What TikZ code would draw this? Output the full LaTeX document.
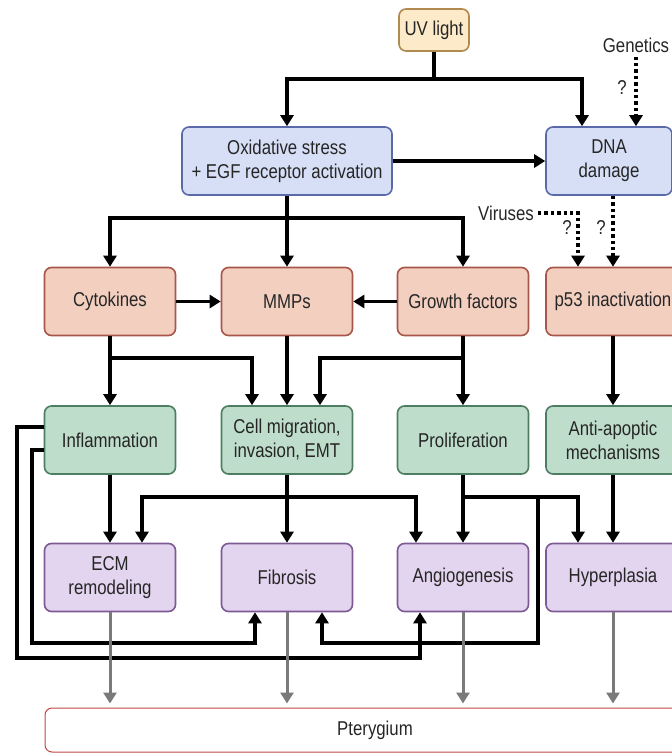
\documentclass[tikz,border=0pt]{standalone}
\usepackage{fontspec}
\setmainfont[FakeStretch=0.84]{Liberation Sans}
\usetikzlibrary{arrows.meta}
\definecolor{uvfill}{HTML}{FCEAC8}
\definecolor{uvdraw}{HTML}{B08A50}
\definecolor{bluefill}{HTML}{D6DFF6}
\definecolor{bluedraw}{HTML}{5A6AA8}
\definecolor{salfill}{HTML}{F3CFC0}
\definecolor{saldraw}{HTML}{A8564A}
\definecolor{grnfill}{HTML}{BEDDCB}
\definecolor{grndraw}{HTML}{4D7D63}
\definecolor{purfill}{HTML}{E3D4EF}
\definecolor{purdraw}{HTML}{7D5A93}
\definecolor{ptdraw}{HTML}{C04848}
\definecolor{txt}{HTML}{262626}
\definecolor{garrow}{HTML}{7A7A7A}
\begin{document}
\begin{tikzpicture}[x=1pt,y=-1pt,
  box/.style={draw, rounded corners=7pt, line width=1.6pt, align=center, text=txt,
    font=\fontsize{20}{24}\selectfont, inner sep=0pt},
  cell/.style={box, minimum width=131pt, minimum height=68pt},
  blue/.style={box, fill=bluefill, draw=bluedraw},
  sal/.style={cell, fill=salfill, draw=saldraw},
  grn/.style={cell, fill=grnfill, draw=grndraw},
  pur/.style={cell, fill=purfill, draw=purdraw},
  lbl/.style={text=txt, font=\fontsize{20}{24}\selectfont, inner sep=0pt},
  arr/.style={line width=3.2pt, -{Triangle[width=13pt,length=11pt]}},
  ln/.style={line width=3.2pt},
  dotarr/.style={line width=3.4pt, dash pattern=on 3.4pt off 3pt, -{Triangle[width=13pt,length=11pt]}},
  garr/.style={line width=3pt, draw=garrow, -{Triangle[width=13pt,length=11pt]}, shorten >=4pt}
]
\useasboundingbox (0,0) rectangle (672,756);

% nodes
\node[box, fill=uvfill, draw=uvdraw, minimum width=70pt, minimum height=42pt] (uv) at (434,30) {UV light};
\node[lbl] (gen) at (636,45) {Genetics};
\node[blue, minimum width=210pt, minimum height=68pt] (ox) at (287,161) {Oxidative stress\\+ EGF receptor activation};
\node[blue, minimum width=126pt, minimum height=68pt] (dna) at (609,161) {DNA\\damage};
\node[lbl] (vir) at (506,213) {Viruses};

\node[sal] (cyt) at (110,301.5) {Cytokines};
\node[sal] (mmp) at (287,301.5) {MMPs};
\node[sal] (gf)  at (463,301.5) {Growth factors};
\node[sal, minimum width=134pt] (p53) at (613,301.5) {p53 inactivation};

\node[grn] (inf)  at (110,440) {Inflammation};
\node[grn] (mig)  at (287,440) {Cell migration,\\invasion, EMT};
\node[grn] (prol) at (463,440) {Proliferation};
\node[grn, minimum width=134pt] (anti) at (613,440) {Anti-apoptic\\mechanisms};

\node[pur] (ecm) at (110,577.5) {ECM\\remodeling};
\node[pur] (fib) at (287,577.5) {Fibrosis};
\node[pur] (ang) at (463,577.5) {Angiogenesis};
\node[pur, minimum width=134pt] (hyp) at (613,577.5) {Hyperplasia};

\node[box, draw=ptdraw, fill=white, line width=1pt, minimum width=660pt, minimum height=44pt] (pt) at (375,730) {Pterygium};

% question marks
\node[lbl] (q1) at (622,88) {?};
\node[lbl] (q2) at (567,228) {?};
\node[lbl] (q3) at (601,228) {?};

% junction coordinates
\coordinate (uvj) at (434,79);
\coordinate (oxj) at (287,218);

% UV light
\draw[ln] (uv.south) -- (uvj);
\draw[arr] (uvj) -| (ox.north);
\draw[arr] (uvj) -| ([xshift=-27pt]dna.north);
\draw[dotarr] ([yshift=-4pt]gen.south) -- (gen.south |- dna.north);

% oxidative stress
\draw[arr] (ox.east) -- (dna.west);
\draw[ln] (ox.south) -- (oxj);
\draw[arr] (oxj) -| (cyt.north);
\draw[arr] (oxj) -- (mmp.north);
\draw[arr] (oxj) -| (gf.north);

% viruses and DNA to p53
\draw[dotarr] ([xshift=4pt]vir.east) -| ([xshift=-35pt]p53.north);
\draw[dotarr] (p53.north |- dna.south) -- (p53.north);

% row 3 horizontals
\draw[arr] (cyt.east) -- (mmp.west);
\draw[arr] (gf.west) -- (mmp.east);

% row 3 to row 4
\draw[arr] (cyt.south) -- (inf.north);
\draw[arr] (cyt.south |- 0,358) -| ([xshift=-35pt]mig.north);
\draw[arr] (mmp.south) -- (mig.north);
\draw[arr] (gf.south) -- (prol.north);
\draw[arr] (gf.south |- 0,358) -| ([xshift=33pt]mig.north);
\draw[arr] (p53.south) -- (anti.north);

% row 4 to row 5
\draw[arr] (inf.south) -- (ecm.north);
\draw[arr] (mig.south) -- (fib.north);
\draw[arr] (mig.south |- 0,497) -| ([xshift=32pt]ecm.north);
\draw[arr] (mig.south |- 0,497) -| ([xshift=-47pt]ang.north);
\draw[arr] (prol.south) -- (ang.north);
\draw[arr] (prol.south |- 0,497) -| ([xshift=-35pt]hyp.north);
\draw[arr] (anti.south) -- (hyp.north);

% feedback loops
\draw[arr] ([yshift=13pt]inf.west) -| (17,658) -| ([xshift=-43pt]ang.south);
\draw[arr] ([yshift=-10pt]inf.west) -| (32,643) -| ([xshift=-32pt]fib.south);
\draw[arr] (538,497) -- (538,643) -| ([xshift=35pt]fib.south);

% to pterygium
\draw[garr] (ecm.south) -- (ecm.south |- pt.north);
\draw[garr] (fib.south) -- (fib.south |- pt.north);
\draw[garr] (ang.south) -- (ang.south |- pt.north);
\draw[garr] (hyp.south) -- (hyp.south |- pt.north);
\end{tikzpicture}
\end{document}
